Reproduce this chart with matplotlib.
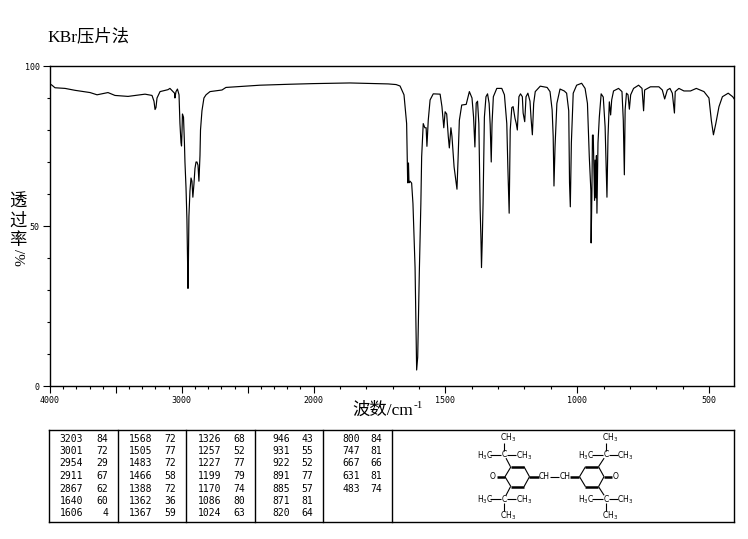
import numpy as np
import matplotlib
matplotlib.use('Agg')
import matplotlib.pyplot as plt
from matplotlib.ticker import FixedLocator, NullFormatter

# IR spectrum, wavenumber axis changes scale at 2000 cm-1

wavenumber = [4000, 3985, 3962, 3886, 3810, 3696, 3643, 3560, 3507, 3408, 3279,
              3226, 3211, 3203, 3196, 3188, 3165, 3105, 3090, 3067, 3055, 3052, 3044, 3033,
              3021, 3014, 3006, 3002, 2998, 2995, 2987, 2980, 2976, 2968, 2961, 2957, 2953,
              2950, 2946, 2938, 2930, 2923, 2916, 2908, 2900, 2892, 2885, 2877, 2870, 2862,
              2858, 2847, 2832, 2816, 2786, 2695, 2665, 2558, 2407, 2179, 2000, 1862, 1717,
              1687, 1672, 1657, 1647, 1643, 1640, 1638, 1634, 1628, 1623, 1615, 1611, 1609,
              1605, 1599, 1593, 1590, 1586, 1584, 1578, 1573, 1570, 1565, 1558, 1546, 1520,
              1513, 1506, 1501, 1495, 1489, 1485, 1479, 1475, 1467, 1460, 1456, 1452, 1447,
              1438, 1421, 1409, 1399, 1393, 1388, 1383, 1378, 1373, 1368, 1365, 1363, 1360,
              1357, 1352, 1346, 1340, 1334, 1330, 1326, 1323, 1318, 1305, 1286, 1276, 1267,
              1263, 1258, 1254, 1248, 1243, 1236, 1231, 1227, 1221, 1215, 1208, 1205, 1199,
              1194, 1187, 1179, 1175, 1170, 1165, 1159, 1140, 1114, 1103, 1095, 1091, 1088,
              1084, 1077, 1065, 1049, 1040, 1032, 1029, 1026, 1022, 1015, 1002, 983, 970,
              961, 954, 948, 947, 944, 942, 939, 937, 934, 932, 929, 927, 925, 921, 916,
              909, 901, 894, 887, 883, 878, 873, 869, 862, 843, 830, 825, 821, 818, 813,
              807, 802, 797, 786, 767, 754, 748, 744, 722, 690, 677, 668, 658, 648, 639,
              631, 628, 614, 595, 570, 548, 519, 500, 491, 483, 474, 462, 449, 427, 410, 405]
transmittance = [94.4, 94, 93.2, 93, 92.4, 91.7, 91, 91.7, 90.8, 90.5, 91.2,
                 90.8, 89, 86.4, 87, 90, 92, 92.6, 93, 92, 91.5, 90, 92, 92.8,
                 91, 82, 76, 75, 80, 85, 84, 76, 70, 62, 52, 42, 30.5,
                 38, 53, 61, 65, 64, 59, 63, 68, 70, 70, 69, 64, 72,
                 80, 86, 90, 91, 92, 92.5, 93.3, 93.6, 94, 94.3, 94.5, 94.7, 94.4,
                 94.2, 93.75, 91, 82, 63.5, 69.7, 63.5, 64, 63.4, 57, 37, 15, 5,
                 9, 35, 57, 71.6, 78.4, 82, 80.7, 80.7, 74.9, 83, 89.4, 91.3, 91.2,
                 87.3, 80.7, 85.7, 85, 78, 74.4, 80.7, 78, 68.5, 64, 61.5, 70.6, 83,
                 87.8, 88, 92, 90, 84, 74.7, 88.4, 89, 82, 55, 46, 37, 45.6,
                 57, 84, 90.4, 91.3, 88.3, 81.6, 70, 82, 90.4, 93, 93, 91, 82,
                 68.5, 54, 80, 87, 87.3, 83.7, 82, 80, 90.4, 91.3, 90.4, 85.3, 82.6,
                 90.4, 91.5, 89, 83.7, 78.5, 88.3, 92, 93.7, 93.3, 92, 86.3, 78, 62.5,
                 74.7, 88.3, 92.8, 92.2, 91.5, 86, 63.5, 56, 76, 91.5, 94, 94.6, 93,
                 88.3, 71.6, 61, 44.7, 61, 78.4, 78.4, 70.6, 58, 70.6, 58.8, 72, 54, 76, 84,
                 91.3, 90.3, 81, 59, 78, 88.8, 84.7, 89.4, 92.2, 93, 92, 83, 66, 86.3, 91.5,
                 91, 86.5, 91, 93, 94, 93, 86, 92.5, 93.5, 93.5, 92.5, 89.7, 92.5, 93, 91.5,
                 85.3, 92, 93, 92.2, 92.2, 93, 92, 90, 83, 78.5, 82, 87.3, 90.4, 91.5, 90.4, 89.8]

# peak table, one list per column
peak_wn = [['3203', '3001', '2954', '2911', '2867', '1640', '1606'],
           ['1568', '1505', '1483', '1466', '1388', '1362', '1367'],
           ['1326', '1257', '1227', '1199', '1170', '1086', '1024'],
           ['946', '931', '922', '891', '885', '871', '820'],
           ['800', '747', '667', '631', '483']]
peak_t = [['84', '72', '29', '67', '62', '60', '4'],
          ['72', '77', '72', '58', '72', '36', '59'],
          ['68', '52', '77', '79', '74', '80', '63'],
          ['43', '55', '52', '77', '57', '81', '64'],
          ['84', '81', '66', '81', '74']]

xmajor = [4000, 3500, 3000, 2500, 2000, 1500, 1000, 500]
xlabelled = {4000: '4000', 3000: '3000', 2000: '2000', 1500: '1500', 1000: '1000', 500: '500'}

MONO = 'DejaVu Sans Mono'
SERIF = ['Liberation Serif', 'Noto Sans CJK SC']
W, H = 748, 539


def forward(v):
    return np.interp(v, [0, 2000, 4000], [-4000, 0, 2000])


def inverse(v):
    return np.interp(v, [-4000, 0, 2000], [0, 2000, 4000])


fig = plt.figure(figsize=(W / 100, H / 100), dpi=100)

# overlay in pixel coordinates for the free text and the table
pix = fig.add_axes([0, 0, 1, 1])
pix.set_xlim(0, W)
pix.set_ylim(H, 0)
pix.axis('off')

ax = fig.add_axes([50 / W, 1 - 386 / H, 684 / W, 320 / H])
ax.set_xscale('function', functions=(forward, inverse))
ax.plot(wavenumber, transmittance, color='black', lw=0.85)
ax.set_xlim(4000, 405)
ax.set_ylim(0, 100)
ax.xaxis.set_major_locator(FixedLocator(xmajor))
ax.xaxis.set_minor_locator(FixedLocator(np.arange(500, 4000, 100)))
ax.xaxis.set_minor_formatter(NullFormatter())
ax.set_xticklabels([xlabelled.get(v, '') for v in xmajor], family=MONO, fontsize=6)
ax.yaxis.set_major_locator(FixedLocator([0, 50, 100]))
ax.yaxis.set_minor_locator(FixedLocator(np.arange(0, 100, 10)))
ax.yaxis.set_minor_formatter(NullFormatter())
ax.set_yticklabels(['0', '50', '100'], family=MONO, fontsize=6)
ax.tick_params(which='major', length=5, width=0.8, pad=2.5)
ax.tick_params(which='minor', length=2.5, width=0.8)
for s in ax.spines.values():
    s.set_linewidth(1.0)

pix.text(47, 37, 'KBr压片法', family=SERIF, fontsize=12.5, va='center', ha='left')
pix.text(18, 203, '透', family=SERIF, fontsize=12.5, va='center', ha='center')
pix.text(18, 222, '过', family=SERIF, fontsize=12.5, va='center', ha='center')
pix.text(18, 241, '率', family=SERIF, fontsize=12.5, va='center', ha='center')
pix.text(18, 257, '/%', family=SERIF, fontsize=11, va='center', ha='center', rotation=-90)
pix.text(413, 411, '波数/cm', family=SERIF, fontsize=12.5, va='center', ha='right')
pix.text(414, 406, '-1', family=SERIF, fontsize=8, va='center', ha='left')

# table frame
for x in [49.5, 118.5, 186.5, 255.5, 323.5, 392.5, 734.5]:
    pix.plot([x, x], [429.5, 521.5], color='black', lw=1.0)
for y in [429.5, 521.5]:
    pix.plot([49.5, 734.5], [y, y], color='black', lw=1.0)

row_y = [438.5, 451, 463.5, 476, 488.5, 501, 513.5]
col_wn_x = [83, 152, 221, 290, 360]
col_t_x = [108, 176, 245, 313, 382]
for c in range(len(peak_wn)):
    for r in range(len(peak_wn[c])):
        pix.text(col_wn_x[c], row_y[r], peak_wn[c][r], family=MONO, fontsize=7,
                 ha='right', va='center')
        pix.text(col_t_x[c], row_y[r], peak_t[c][r], family=MONO, fontsize=7,
                 ha='right', va='center')


# structure drawing
def bond(x1, y1, x2, y2, lw=0.8):
    pix.plot([x1, x2], [y1, y2], color='black', lw=lw, solid_capstyle='butt')


def atom(x, y, s):
    pix.text(x, y, s, fontsize=5.5, ha='center', va='center', family='DejaVu Sans')


def butyl(cx, cy, ring_x, ring_y, top):
    # tert-butyl group, top says above or below the ring
    sign = -1 if top else 1
    bond(ring_x, ring_y, cx + (ring_x - cx) * 0.25, cy + (ring_y - cy) * 0.3)
    atom(cx, cy, 'C')
    bond(cx, cy + sign * 3.5, cx, cy + sign * 12)
    atom(cx + 4, cy + sign * 17, 'CH$_3$')
    bond(cx - 14, cy, cx - 3, cy)
    atom(cx - 19.5, cy + 1, 'H$_3$C')
    bond(cx + 3, cy, cx + 12, cy)
    atom(cx + 19.5, cy + 1, 'CH$_3$')


for x0 in [505, 579.5]:
    x1, x2, x3 = x0 + 6, x0 + 19, x0 + 24.5
    bond(x0, 476.7, x1, 466.7)
    bond(x2, 466.7, x3, 476.7)
    bond(x3, 476.7, x2, 486.7)
    bond(x1, 486.7, x0, 476.7)
    bond(x1, 466.7, x2, 466.7, 1.8)
    bond(x1, 486.7, x2, 486.7, 1.8)

bond(497, 476.7, 505, 476.7, 1.8)
atom(493, 476.7, 'O')
bond(604, 476.7, 612, 476.7, 1.8)
atom(616, 476.7, 'O')
bond(529.5, 476.7, 539, 476.7, 1.8)
atom(544.5, 476.7, 'CH')
bond(550, 476.7, 559, 476.7)
atom(565, 476.7, 'CH')
bond(570.5, 476.7, 579.5, 476.7, 1.8)

butyl(504.5, 454.5, 510.5, 466.7, True)
butyl(504.5, 499, 510.5, 486.7, False)
butyl(606, 454.5, 598.5, 466.7, True)
butyl(606, 499, 598.5, 486.7, False)

fig.savefig('out.png', dpi=100)
